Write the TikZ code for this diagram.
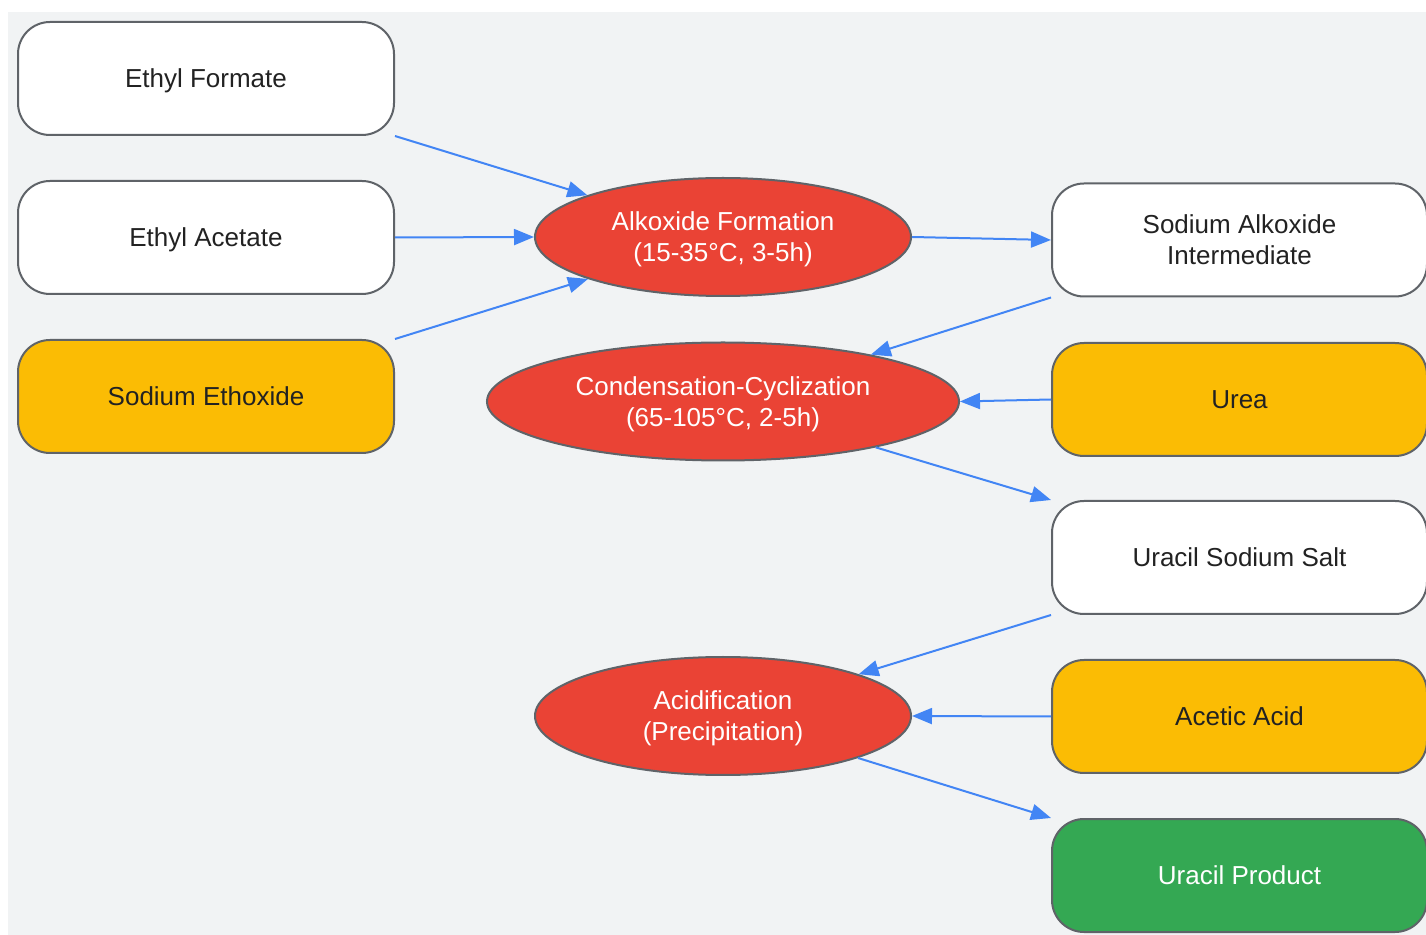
\documentclass[tikz,border=0pt]{standalone}
\usepackage{fontspec}
\setmainfont{Liberation Sans}
\usetikzlibrary{shapes,arrows.meta}

\definecolor{bgray}{HTML}{F1F3F4}
\definecolor{edgegray}{HTML}{5F6368}
\definecolor{stepred}{HTML}{EA4335}
\definecolor{reagyellow}{HTML}{FBBC04}
\definecolor{prodgreen}{HTML}{34A853}
\definecolor{flowblue}{HTML}{4285F4}
\definecolor{txt}{HTML}{222222}

\begin{document}
\begin{tikzpicture}
[
x=0.5pt, y=-0.5pt,
every edge/.style={draw=flowblue, line width=1pt},
>={Triangle[length=10pt, width=8pt]}
]
\tikzset{chem/.style={draw=edgegray, line width=1pt, rounded corners=16pt,
  minimum width=188pt, minimum height=56.5pt, align=center, text=txt,
  text depth=0pt, font=\fontsize{13pt}{15.5pt}\selectfont, fill=white}}
\tikzset{reagent/.style={chem, fill=reagyellow}}
\tikzset{product/.style={chem, fill=prodgreen, text=white}}
\tikzset{stage/.style={ellipse, draw=edgegray, line width=1pt, fill=stepred,
  text=white, inner sep=0pt, minimum width=188pt, minimum height=59pt,
  align=center, text depth=0pt, font=\fontsize{13pt}{15.5pt}\selectfont}}

\useasboundingbox (0,0) rectangle (1426,935);
\fill[bgray] (8,12) rectangle (1426,935);

\node[chem] (formate) at (206,78.5) {Ethyl Formate};
\node[chem] (acetate) at (206,237.5) {Ethyl Acetate};
\node[reagent] (ethoxide) at (206,396.5) {Sodium Ethoxide};

\node[stage] (alkox) at (723,237) {Alkoxide Formation\\(15-35°C, 3-5h)};
\node[stage, minimum width=236pt] (cond) at (723,401.5) {Condensation-Cyclization\\(65-105°C, 2-5h)};
\node[stage] (acid) at (723,716) {Acidification\\(Precipitation)};

\node[chem, minimum width=187.5pt] (inter) at (1239.5,240) {Sodium Alkoxide\\Intermediate};
\node[reagent, minimum width=187.5pt] (urea) at (1239.5,399.5) {Urea};
\node[chem, minimum width=187.5pt] (salt) at (1239.5,557.5) {Uracil Sodium Salt};
\node[reagent, minimum width=187.5pt] (acetic) at (1239.5,716.5) {Acetic Acid};
\node[product, minimum width=187.5pt] (uracil) at (1239.5,875.5) {Uracil Product};

\path[->]
(formate.south east) edge (alkox)
(acetate.east) edge (alkox.west)
(ethoxide.north east) edge (alkox)
(alkox.east) edge (inter.west)
(inter.south west) edge (cond)
(urea.west) edge (cond.east)
(cond) edge (salt.north west)
(salt.south west) edge (acid)
(acetic.west) edge (acid.east)
(acid) edge (uracil.north west);
\end{tikzpicture}
\end{document}
